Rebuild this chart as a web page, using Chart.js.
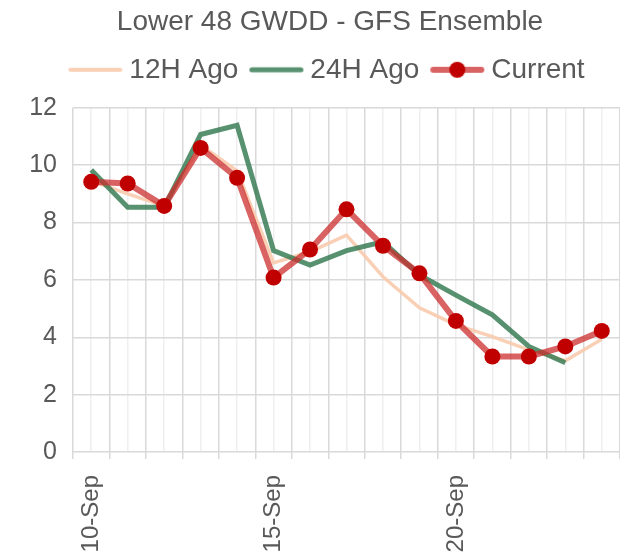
<!DOCTYPE html>
<html>
<head>
<meta charset="utf-8">
<script src="https://cdn.jsdelivr.net/npm/chart.js@4"></script>
<style>
    html, body { margin: 0; padding: 0; background: #fff; }
    #wrap { width: 620px; height: 557px; }
</style>
</head>
<body>
<div id="wrap"><canvas id="gwddChart"></canvas></div>
<script>
// Values
const days = ['10-Sep', '11-Sep', '12-Sep', '13-Sep', '14-Sep', '15-Sep', '16-Sep', '17-Sep',
    '18-Sep', '19-Sep', '20-Sep', '21-Sep', '22-Sep', '23-Sep', '24-Sep'];
const ago12 = [9.45, 9.0, 8.58, 10.7, 9.8, 6.59, 6.98, 7.56, 6.11, 5.03, 4.43, 4.02, 3.56, 3.18, 3.93];
const ago24 = [9.83, 8.53, 8.53, 11.07, 11.39, 7.02, 6.52, 7.02, 7.33, 6.17, 5.47, 4.78, 3.68, 3.11, null];
const current = [9.42, 9.36, 8.58, 10.60, 9.56, 6.08, 7.06, 8.46, 7.19, 6.23, 4.57, 3.33, 3.33, 3.68, 4.22];
const yTicks = [0, 2, 4, 6, 8, 10, 12];

const textColor = '#595959';
const fontFamily = "'Liberation Sans', Arial, sans-serif";
const orange = 'rgba(248, 203, 173, 0.9)';
const green = 'rgba(46, 117, 76, 0.8)';
const red = 'rgba(204, 45, 45, 0.75)';
const redDot = '#C00000';

// little canvases used as legend symbols (line, or line with a dot)
function legendIcon(color, width, dot) {
    const c = document.createElement('canvas');
    c.width = 56;
    c.height = 20;
    const g = c.getContext('2d');
    g.strokeStyle = color;
    g.lineWidth = width;
    g.lineCap = 'round';
    g.beginPath();
    g.moveTo(width / 2 + 1, 10);
    g.lineTo(56 - width / 2 - 1, 10);
    g.stroke();
    if (dot) {
        g.fillStyle = dot;
        g.beginPath();
        g.arc(28, 10, 8, 0, Math.PI * 2);
        g.fill();
    }
    return c;
}

const icons = [
    legendIcon(red, 6, redDot),
    legendIcon(green, 5),
    legendIcon(orange, 4)
];

// leave some room between the legend and the plot
const legendGap = {
    id: 'legendGap',
    beforeInit(chart) {
        const fit = chart.legend.fit;
        chart.legend.fit = function() {
            fit.call(this);
            this.height += 14;
        };
    }
};

const ctx = document.getElementById('gwddChart').getContext('2d');
new Chart(ctx, {
    type: 'line',
    plugins: [legendGap],
    data: {
        labels: days,
        datasets: [
            {
                label: 'Current',
                data: current,
                borderColor: red,
                borderWidth: 6,
                pointRadius: 8,
                pointBackgroundColor: redDot,
                pointBorderWidth: 0,
                tension: 0
            },
            {
                label: '24H Ago',
                data: ago24,
                borderColor: green,
                borderWidth: 5,
                pointRadius: 0,
                tension: 0
            },
            {
                label: '12H Ago',
                data: ago12,
                borderColor: orange,
                borderWidth: 3.5,
                pointRadius: 0,
                tension: 0
            }
        ]
    },
    options: {
        responsive: true,
        maintainAspectRatio: false,
        animation: false,
        layout: {
            autoPadding: false,
            padding: { left: 28, right: -12, top: 0, bottom: 0 }
        },
        plugins: {
            tooltip: { enabled: false },
            title: {
                display: true,
                text: 'Lower 48 GWDD - GFS Ensemble',
                color: textColor,
                font: { family: fontFamily, size: 28, weight: 'normal', lineHeight: 1.1 },
                padding: { top: 7, bottom: 0 }
            },
            legend: {
                display: true,
                labels: {
                    color: textColor,
                    font: { family: fontFamily, size: 28 },
                    usePointStyle: true,
                    pointStyleWidth: 40,
                    padding: 18,
                    generateLabels: function(chart) {
                        return [2, 1, 0].map(function(i) {
                            return {
                                text: chart.data.datasets[i].label,
                                pointStyle: icons[i],
                                fontColor: textColor,
                                lineWidth: 0,
                                strokeStyle: 'transparent',
                                fillStyle: 'transparent',
                                datasetIndex: i
                            };
                        });
                    }
                }
            }
        },
        scales: {
            x: {
                type: 'category',
                offset: true,
                afterFit: function(scale) {
                    scale.paddingRight = 0;
                    scale.height = 105;
                },
                grid: {
                    offset: true,
                    color: '#d9d9d9',
                    lineWidth: 1.5,
                    tickLength: 7,
                    tickColor: '#d9d9d9'
                },
                border: { display: false },
                ticks: {
                    autoSkip: false,
                    maxRotation: 90,
                    minRotation: 90,
                    padding: 16,
                    color: textColor,
                    font: { family: fontFamily, size: 24 },
                    callback: function(val, index) {
                        return index % 5 === 0 ? this.getLabelForValue(val) : '';
                    }
                }
            },
            x2: {
                type: 'category',
                position: 'bottom',
                labels: days,
                offset: true,
                afterFit: function(scale) {
                    scale.paddingRight = 0;
                    scale.height = 0;
                },
                grid: {
                    offset: false,
                    color: '#efefef',
                    lineWidth: 1.5,
                    drawTicks: false
                },
                border: { display: false },
                ticks: { display: false }
            },
            y: {
                min: 0,
                max: 12,
                afterBuildTicks: function(scale) {
                    scale.ticks = yTicks.map(function(v) { return { value: v }; });
                },
                afterFit: function(scale) {
                    scale.width = 45;
                },
                grid: {
                    color: '#d9d9d9',
                    lineWidth: 1.5,
                    drawTicks: false
                },
                border: { display: false },
                ticks: {
                    padding: 16,
                    color: textColor,
                    font: { family: fontFamily, size: 25 }
                }
            }
        }
    }
});
</script>
</body>
</html>
